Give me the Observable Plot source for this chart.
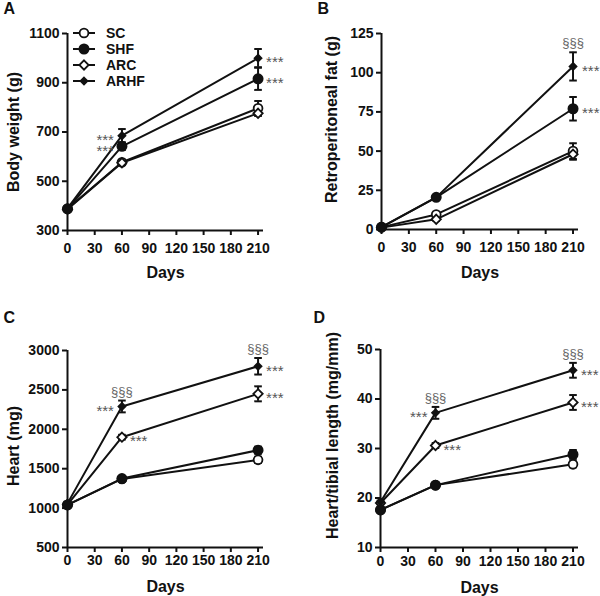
<!DOCTYPE html>
<html><head><meta charset="utf-8">
<script src="https://cdn.jsdelivr.net/npm/d3@7"></script>
<script src="https://cdn.jsdelivr.net/npm/@observablehq/plot@0.6"></script>
<style>
body{margin:0;background:#fff;}
#wrap{position:relative;width:600px;height:596px;overflow:hidden;font-family:"Liberation Sans",Arial,sans-serif;}
#wrap svg{position:absolute;}
</style></head><body><div id="wrap"></div>
<script>
// ---------- data ----------
const days = [0, 60, 210];
const xTicks = [0, 30, 60, 90, 120, 150, 180, 210];
const seriesNames = ["SC", "SHF", "ARC", "ARHF"];

// A: Body weight (g)   rows follow seriesNames
const bwMean = [[388, 577, 796], [388, 642, 916], [386, 575, 776], [390, 685, 1000]];
const bwErr  = [[5, 8, 30], [5, 15, 45], [5, 8, 10], [5, 27, 37]];
const bwTicks = [300, 500, 700, 900, 1100];

// B: Retroperitoneal fat (g)
const fatMean = [[1.5, 9.6, 50], [1.5, 20.5, 77], [1.2, 6.5, 48], [1.5, 20.5, 104]];
const fatErr  = [[0.3, 1, 5], [0.3, 1.5, 7.5], [0.3, 1, 3.5], [0.3, 1.5, 9]];
const fatTicks = [0, 25, 50, 75, 100, 125];

// C: Heart (mg)
const heartMean = [[1040, 1370, 1612], [1040, 1375, 1735], [1045, 1900, 2450], [1060, 2290, 2800]];
const heartErr  = [[20, 30, 40], [20, 30, 45], [20, 30, 95], [20, 75, 105]];
const heartTicks = [500, 1000, 1500, 2000, 2500, 3000];

// D: Heart/tibial length (mg/mm)
const htlMean = [[17.6, 22.6, 26.8], [17.6, 22.6, 28.8], [19.0, 30.6, 39.3], [19.2, 37.2, 45.8]];
const htlErr  = [[0.3, 0.4, 0.6], [0.3, 0.4, 0.9], [0.3, 0.5, 1.5], [0.3, 1.2, 1.5]];
const htlTicks = [10, 20, 30, 40, 50];

// significance marks: [series, day]
const bwStarsLeft = [["ARHF", 60], ["SHF", 60]];
const bwStarsRight = [["ARHF", 210], ["SHF", 210]];
const bwSections = [];
const fatStarsLeft = [];
const fatStarsRight = [["ARHF", 210], ["SHF", 210]];
const fatSections = [["ARHF", 210]];
const heartStarsLeft = [["ARHF", 60]];
const heartStarsRight = [["ARC", 60], ["ARHF", 210], ["ARC", 210]];
const heartSections = [["ARHF", 60], ["ARHF", 210]];
const htlStarsLeft = [["ARHF", 60]];
const htlStarsRight = [["ARC", 60], ["ARHF", 210], ["ARC", 210]];
const htlSections = [["ARHF", 60], ["ARHF", 210]];

// ---------- styles ----------
const FONT = "Liberation Sans, Arial, sans-serif";
const INK = "#111";
const capSymbol = {draw(ctx, size) { const w = Math.sqrt(size / Math.PI); ctx.moveTo(-w, 0); ctx.lineTo(w, 0); }};
const markerStyle = {
  SC:   {symbol: "circle", fill: "white", r: 4.4},
  SHF:  {symbol: "circle", fill: INK, r: 4.6},
  ARC:  {symbol: "diamond2", fill: "white", r: 4.2},
  ARHF: {symbol: "diamond2", fill: INK, r: 3.1}
};
const drawOrder = ["SC", "ARC", "ARHF", "SHF"];

function toRows(mean, err) {
  const out = [];
  seriesNames.forEach((s, i) => days.forEach((d, j) => out.push({series: s, day: d, v: mean[i][j], e: err[i][j]})));
  return out;
}
function lookup(rows, marks) {
  return marks.map(([s, d]) => rows.find(r => r.series === s && r.day === d));
}

function panel(cfg) {
  const rows = toRows(cfg.mean, cfg.err);
  const starText = {text: () => "***", dy: 4.5, fontSize: 15, fontWeight: "normal", fill: "#555"};
  const marks = [
    Plot.ruleX([0], {stroke: INK, strokeWidth: 2}),
    Plot.ruleY([cfg.yDomain[0]], {stroke: INK, strokeWidth: 2}),
    Plot.axisY({ticks: cfg.yTicks, tickSize: 5, tickPadding: 3, strokeWidth: 2, stroke: INK, label: null, fontSize: 14, fontWeight: "bold", fill: INK, tickFormat: d => String(d)}),
    Plot.axisX({ticks: xTicks, tickSize: 5, tickPadding: cfg.xPad, strokeWidth: 2, stroke: INK, label: null, fontSize: 14, fontWeight: "bold", fill: INK, tickFormat: d => String(d)}),
    Plot.line(rows, {x: "day", y: "v", z: "series", stroke: INK, strokeWidth: 2}),
    Plot.ruleX(rows, {x: "day", y1: d => d.v - d.e, y2: d => d.v + d.e, stroke: INK, strokeWidth: 2}),
    Plot.dot(rows, {x: "day", y: d => d.v + d.e, symbol: capSymbol, r: 3.8, stroke: INK, strokeWidth: 2}),
    Plot.dot(rows, {x: "day", y: d => d.v - d.e, symbol: capSymbol, r: 3.8, stroke: INK, strokeWidth: 2}),
    ...drawOrder.map(s => Plot.dot(rows.filter(r => r.series === s), {x: "day", y: "v", symbol: markerStyle[s].symbol, r: markerStyle[s].r, fill: markerStyle[s].fill, stroke: INK, strokeWidth: 1.8})),
    Plot.text(lookup(rows, cfg.starsLeft), {x: "day", y: "v", ...starText, textAnchor: "end", dx: -8}),
    Plot.text(lookup(rows, cfg.starsRight), {x: "day", y: "v", ...starText, textAnchor: "start", dx: cfg.starDx}),
    Plot.text(lookup(rows, cfg.sections), {x: "day", y: d => d.v + d.e, text: () => "§§§", textAnchor: "middle", lineAnchor: "middle", dy: -9, fontSize: 13, fontWeight: "normal", fill: "#666"}),
    Plot.text([cfg.yLabel], {frameAnchor: "left", textAnchor: "middle", lineAnchor: "middle", rotate: -90, dx: cfg.yLabelDx, dy: cfg.yLabelDy, fontSize: 16, fontWeight: "bold", fill: INK}),
    Plot.text(["Days"], {frameAnchor: "bottom", textAnchor: "middle", lineAnchor: "middle", dy: cfg.daysDy, fontSize: 16, fontWeight: "bold", fill: INK}),
    Plot.text([cfg.letter], {frameAnchor: "top-left", textAnchor: "start", lineAnchor: "middle", dx: cfg.letterDx, dy: cfg.letterDy, fontSize: 16, fontWeight: "bold", fill: INK})
  ];
  const svg = Plot.plot({
    width: 300, height: cfg.height,
    marginLeft: cfg.mL, marginRight: cfg.mR, marginTop: cfg.mT, marginBottom: cfg.mB,
    x: {domain: [0, 216]},
    y: {domain: cfg.yDomain},
    style: {fontFamily: FONT, fontSize: "14px", fontWeight: "bold", color: INK, background: "white"},
    marks
  });
  svg.style.left = cfg.left + "px";
  svg.style.top = cfg.top + "px";
  document.getElementById("wrap").appendChild(svg);
  return svg;
}

const svgA = panel({letter: "A", mean: bwMean, err: bwErr, yDomain: [300, 1100], yTicks: bwTicks, yLabel: "Body weight (g)",
  left: 0, top: 0, height: 300, mL: 67, mR: 37, mT: 33, mB: 70, xPad: 8, yLabelDx: -54, yLabelDy: 0, daysDy: 42,
  letterDx: -64, letterDy: -25, starDx: 8, starsLeft: bwStarsLeft, starsRight: bwStarsRight, sections: bwSections});
panel({letter: "B", mean: fatMean, err: fatErr, yDomain: [0, 125], yTicks: fatTicks, yLabel: "Retroperitoneal fat (g)",
  left: 300, top: 0, height: 300, mL: 81, mR: 22, mT: 33, mB: 71, xPad: 8, yLabelDx: -50, yLabelDy: -12, daysDy: 43,
  letterDx: -64, letterDy: -25, starDx: 9, starsLeft: fatStarsLeft, starsRight: fatStarsRight, sections: fatSections});
panel({letter: "C", mean: heartMean, err: heartErr, yDomain: [500, 3000], yTicks: heartTicks, yLabel: "Heart (mg)",
  left: 0, top: 300, height: 296, mL: 67, mR: 37, mT: 50, mB: 49, xPad: 3, yLabelDx: -54, yLabelDy: -3, daysDy: 39,
  letterDx: -64, letterDy: -33, starDx: 8, starsLeft: heartStarsLeft, starsRight: heartStarsRight, sections: heartSections});
panel({letter: "D", mean: htlMean, err: htlErr, yDomain: [10, 50], yTicks: htlTicks, yLabel: "Heart/tibial length (mg/mm)",
  left: 300, top: 300, height: 296, mL: 80, mR: 22, mT: 49, mB: 49, xPad: 4, yLabelDx: -48, yLabelDy: -13, daysDy: 40,
  letterDx: -67, letterDy: -32, starDx: 8, starsLeft: htlStarsLeft, starsRight: htlStarsRight, sections: htlSections});

// legend in panel A
const legendSymbols = {circle: d3.symbolCircle, diamond2: d3.symbolDiamond2};
const lg = d3.select(svgA).append("g").attr("class", "legend");
seriesNames.forEach((s, i) => {
  const y = 33 + 16 * i;
  const st = markerStyle[s];
  lg.append("line").attr("x1", 73).attr("x2", 95).attr("y1", y).attr("y2", y).attr("stroke", INK).attr("stroke-width", 2);
  lg.append("path").attr("transform", `translate(84,${y})`)
    .attr("d", d3.symbol(legendSymbols[st.symbol], Math.PI * st.r * st.r)())
    .attr("fill", st.fill).attr("stroke", INK).attr("stroke-width", 1.8);
  lg.append("text").attr("x", 106).attr("y", y).attr("dy", "0.35em").attr("text-anchor", "start")
    .attr("font-family", FONT).attr("font-size", 14).attr("font-weight", "bold").attr("fill", INK).text(s);
});
</script></body></html>
